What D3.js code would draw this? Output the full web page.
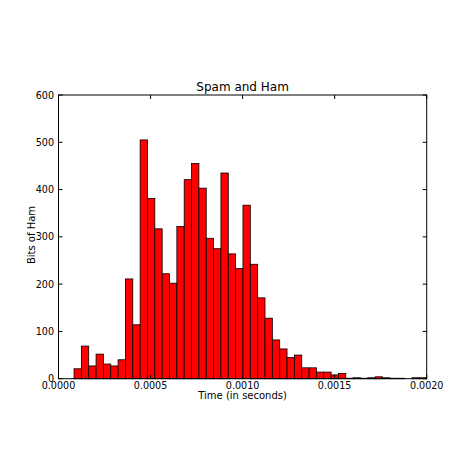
<!DOCTYPE html>
<html>
<head>
<meta charset="utf-8">
<script src="https://cdn.jsdelivr.net/npm/d3@7"></script>
<style>
body{margin:0;background:#fff;}
text{font-family:"DejaVu Sans",sans-serif;}
</style>
</head>
<body>
<svg id="chart" width="474" height="474"></svg>
<script>
// histogram bins, start and width in seconds
var binStart = 0.0000843;
var binWidth = 0.0000399;
var counts = [21, 69, 27, 52, 31, 27, 40, 211, 114, 505,
	381, 317, 222, 202, 322, 421, 455, 403, 297, 275,
	435, 264, 233, 367, 242, 171, 128, 82, 63, 45,
	50, 23, 23, 14, 14, 8, 11, 1, 2, 1,
	2, 4, 2, 1, 1, 0, 2, 2];
var xTicks = [0, 0.0005, 0.0010, 0.0015, 0.0020];
var yTicks = [0, 100, 200, 300, 400, 500, 600];

var svg = d3.select("#chart");
var plotL = 58.5, plotR = 426.7, plotT = 95, plotB = 378.7;

var x = d3.scaleLinear().domain([0, 0.002]).range([plotL, plotR]);
var y = d3.scaleLinear().domain([0, 600]).range([plotB, plotT]);

svg.append("g").selectAll("rect").data(counts).enter().append("rect")
	.attr("x", function(d, i){ return x(binStart + i * binWidth); })
	.attr("width", function(d, i){ return x(binStart + (i + 1) * binWidth) - x(binStart + i * binWidth); })
	.attr("y", function(d){ return y(d); })
	.attr("height", function(d){ return y(0) - y(d); })
	.attr("fill", "#ff0000").attr("stroke", "#000").attr("stroke-width", 0.8);

// frame
svg.append("rect").attr("x", plotL).attr("y", plotT).attr("width", plotR - plotL).attr("height", plotB - plotT)
	.attr("fill", "none").attr("stroke", "#000").attr("stroke-width", 1);

// inward ticks on every side
var ax = svg.append("g").attr("stroke", "#000").attr("stroke-width", 1);
xTicks.forEach(function(t){
	ax.append("line").attr("x1", x(t)).attr("x2", x(t)).attr("y1", plotB).attr("y2", plotB - 4);
	ax.append("line").attr("x1", x(t)).attr("x2", x(t)).attr("y1", plotT).attr("y2", plotT + 4);
});
yTicks.forEach(function(t){
	ax.append("line").attr("x1", plotL).attr("x2", plotL + 4).attr("y1", y(t)).attr("y2", y(t));
	ax.append("line").attr("x1", plotR).attr("x2", plotR - 4).attr("y1", y(t)).attr("y2", y(t));
});

svg.append("g").selectAll("text").data(xTicks).enter().append("text")
	.attr("x", function(d){ return x(d); }).attr("y", plotB + 10.5)
	.attr("text-anchor", "middle").attr("font-size", 9.6)
	.text(function(d){ return d.toFixed(4); });

svg.append("g").selectAll("text").data(yTicks).enter().append("text")
	.attr("x", plotL - 4.5).attr("y", function(d){ return y(d) + 3.5; })
	.attr("text-anchor", "end").attr("font-size", 9.6)
	.text(function(d){ return d; });

svg.append("text").attr("x", (plotL + plotR) / 2).attr("y", 91)
	.attr("text-anchor", "middle").attr("font-size", 12).text("Spam and Ham");
svg.append("text").attr("x", (plotL + plotR) / 2).attr("y", 399)
	.attr("text-anchor", "middle").attr("font-size", 10).text("Time (in seconds)");
svg.append("text").attr("transform", "translate(34.5,235) rotate(-90)")
	.attr("text-anchor", "middle").attr("font-size", 10).text("Bits of Ham");
</script>
</body>
</html>
